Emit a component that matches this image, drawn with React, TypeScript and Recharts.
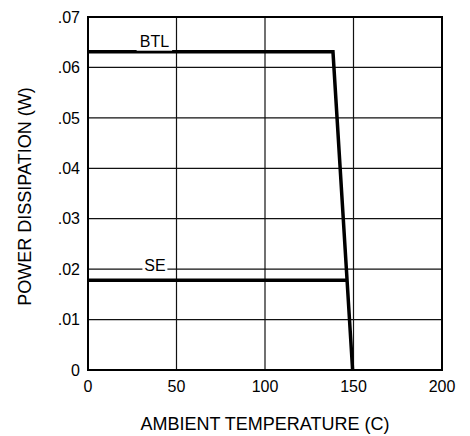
import { ComposedChart, Line, Scatter, XAxis, YAxis, CartesianGrid, ReferenceArea } from "recharts";

const xTicks = [0, 50, 100, 150, 200];
const yTicks = [0, 0.01, 0.02, 0.03, 0.04, 0.05, 0.06, 0.07];

const btl = [
  { x: 0, y: 0.0631 },
  { x: 138.4, y: 0.0631 },
  { x: 149.5, y: 0 },
];
const se = [
  { x: 0, y: 0.0178 },
  { x: 146.2, y: 0.0178 },
];
const seriesLabels = [
  { x: 37.5, y: 0.0651, text: "BTL" },
  { x: 37.8, y: 0.0207, text: "SE" },
];

const font = "Arial, 'Liberation Sans', sans-serif";
const fmtY = (v: number) => (v === 0 ? "0" : v.toFixed(2).replace(/^0/, ""));

function LabelShape(props: any) {
  const { cx, cy, payload } = props;
  const w = payload.text.length * 10.5 + 4;
  return (
    <g>
      <rect x={cx - w / 2} y={cy - 9} width={w} height={18} fill="#fff" />
      <text x={cx} y={cy} textAnchor="middle" dominantBaseline="central" fontSize={16} fontFamily={font} fill="#000">
        {payload.text}
      </text>
    </g>
  );
}

export default function App() {
  return (
    <div style={{ position: "absolute", left: 0, top: 0, background: "#fff" }}>
      <ComposedChart width={470} height={436} margin={{ top: 17, right: 28, bottom: 0, left: 0 }}>
        <CartesianGrid stroke="#111" strokeWidth={1.2} />
        <XAxis
          dataKey="x"
          type="number"
          domain={[0, 200]}
          ticks={xTicks}
          height={66}
          axisLine={false}
          tickLine={false}
          tickSize={0}
          tickMargin={11}
          tick={{ fill: "#000", fontSize: 16, fontFamily: font }}
          label={({ viewBox }: any) => (
            <text x={viewBox.x + viewBox.width / 2} y={viewBox.y + 60} textAnchor="middle" fontSize={18} fontFamily={font} fill="#000">
              AMBIENT TEMPERATURE (C)
            </text>
          )}
        />
        <YAxis
          type="number"
          domain={[0, 0.07]}
          ticks={yTicks}
          width={88}
          axisLine={false}
          tickLine={false}
          tickSize={0}
          tickMargin={8}
          tickFormatter={fmtY}
          tick={{ fill: "#000", fontSize: 16, fontFamily: font }}
          label={({ viewBox }: any) => {
            const cx = viewBox.x + 25;
            const cy = viewBox.y + viewBox.height / 2 + 3;
            return (
              <text x={cx} y={cy} transform={`rotate(-90, ${cx}, ${cy})`} textAnchor="middle" dominantBaseline="central" fontSize={18} fontFamily={font} fill="#000">
                POWER DISSIPATION (W)
              </text>
            );
          }}
        />
        <ReferenceArea x1={0} x2={200} y1={0} y2={0.07} fill="none" stroke="#000" strokeWidth={2} fillOpacity={0} />
        <Scatter data={seriesLabels} dataKey="y" shape={<LabelShape />} isAnimationActive={false} />
        <Line data={btl} dataKey="y" type="linear" stroke="#000" strokeWidth={3.5} dot={false} isAnimationActive={false} />
        <Line data={se} dataKey="y" type="linear" stroke="#000" strokeWidth={3.5} dot={false} isAnimationActive={false} />
      </ComposedChart>
    </div>
  );
}
